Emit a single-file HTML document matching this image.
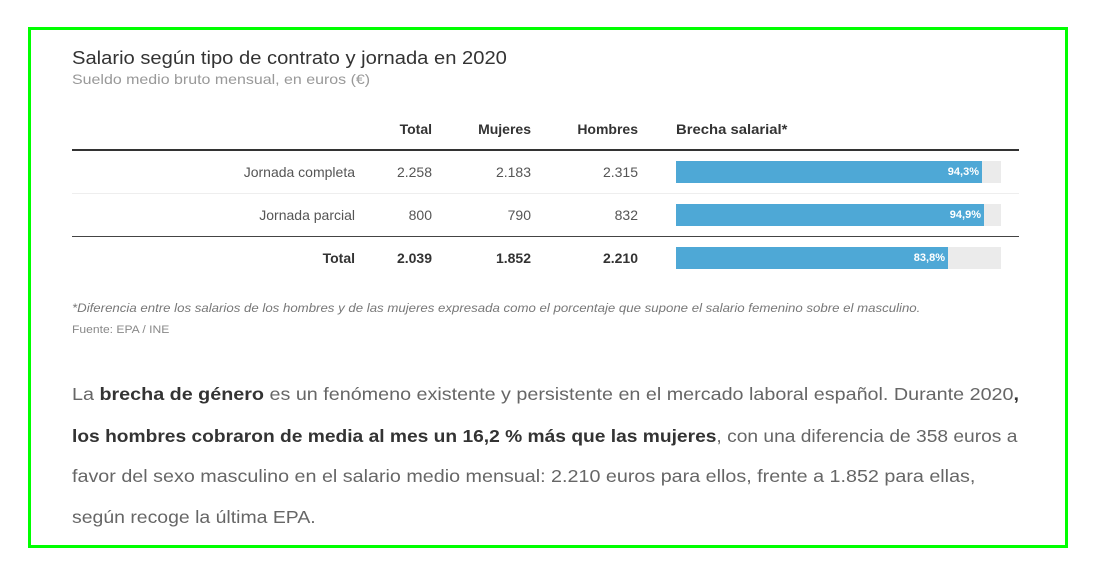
<!DOCTYPE html>
<html><head><meta charset="utf-8"><style>
body{margin:0;width:1103px;height:576px;background:#fff;position:relative;overflow:hidden;font-family:"Liberation Sans",sans-serif;}
.b{position:absolute;left:28px;top:27px;width:1034px;height:515px;border:3px solid #00ff00;}
.a{position:absolute;white-space:nowrap;}
.r{text-align:right;}
.hd{font-weight:bold;font-size:14px;color:#333;}
.c{font-size:14px;color:#555;}
.t{font-size:14px;color:#333;font-weight:bold;}
.bg{position:absolute;left:676px;width:325px;height:22px;background:#ebebeb;}
.bar{position:absolute;left:0;top:0;height:22px;background:#4ea8d6;color:#fff;font-size:11px;font-weight:bold;line-height:22px;text-align:right;box-sizing:border-box;padding-right:3px;}
.p{position:absolute;left:72px;font-size:17.5px;color:#666;white-space:nowrap;transform-origin:left center;}
.p b{color:#333;}
.sx{transform-origin:left center;}
</style></head><body>
<div class="b"></div>
<div class="a sx" style="left:72px;top:48px;font-size:18px;color:#333;transform:scaleX(1.12);">Salario según tipo de contrato y jornada en 2020</div>
<div class="a sx" style="left:72px;top:71px;font-size:14px;color:#999;transform:scaleX(1.14);">Sueldo medio bruto mensual, en euros (€)</div>

<div class="a hd r" style="left:360px;width:72px;top:121px;">Total</div>
<div class="a hd r" style="left:440px;width:91px;top:121px;">Mujeres</div>
<div class="a hd r" style="left:540px;width:98px;top:121px;">Hombres</div>
<div class="a hd sx" style="left:676px;top:121px;transform:scaleX(1.06);">Brecha salarial*</div>
<div class="a" style="left:72px;top:149px;width:947px;height:2px;background:#333;"></div>

<div class="a c r" style="left:72px;width:283px;top:164px;">Jornada completa</div>
<div class="a c r" style="left:360px;width:72px;top:164px;">2.258</div>
<div class="a c r" style="left:440px;width:91px;top:164px;">2.183</div>
<div class="a c r" style="left:540px;width:98px;top:164px;">2.315</div>
<div class="bg" style="top:161px;"><div class="bar" style="width:306px;">94,3%</div></div>
<div class="a" style="left:72px;top:193px;width:947px;height:1px;background:#eee;"></div>

<div class="a c r" style="left:72px;width:283px;top:207px;">Jornada parcial</div>
<div class="a c r" style="left:360px;width:72px;top:207px;">800</div>
<div class="a c r" style="left:440px;width:91px;top:207px;">790</div>
<div class="a c r" style="left:540px;width:98px;top:207px;">832</div>
<div class="bg" style="top:204px;"><div class="bar" style="width:308px;">94,9%</div></div>
<div class="a" style="left:72px;top:236px;width:947px;height:1px;background:#444;"></div>

<div class="a t r" style="left:72px;width:283px;top:250px;">Total</div>
<div class="a t r" style="left:360px;width:72px;top:250px;">2.039</div>
<div class="a t r" style="left:440px;width:91px;top:250px;">1.852</div>
<div class="a t r" style="left:540px;width:98px;top:250px;">2.210</div>
<div class="bg" style="top:247px;"><div class="bar" style="width:272px;">83,8%</div></div>

<div class="a sx" style="left:72px;top:303px;font-size:11.5px;font-style:italic;color:#777;transform:scaleX(1.15);">*Diferencia entre los salarios de los hombres y de las mujeres expresada como el porcentaje que supone el salario femenino sobre el masculino.</div>
<div class="a sx" style="left:72px;top:324px;font-size:11px;color:#888;transform:scaleX(1.1);">Fuente: EPA / INE</div>

<div class="p" style="top:384px;transform:scaleX(1.128);">La <b>brecha de género</b> es un fenómeno existente y persistente en el mercado laboral español. Durante 2020<b>,</b></div>
<div class="p" style="top:426px;transform:scaleX(1.097);"><b>los hombres cobraron de media al mes un 16,2 % más que las mujeres</b>, con una diferencia de 358 euros a</div>
<div class="p" style="top:466px;transform:scaleX(1.127);">favor del sexo masculino en el salario medio mensual: 2.210 euros para ellos, frente a 1.852 para ellas,</div>
<div class="p" style="top:507px;transform:scaleX(1.11);">según recoge la última EPA.</div>
</body></html>
